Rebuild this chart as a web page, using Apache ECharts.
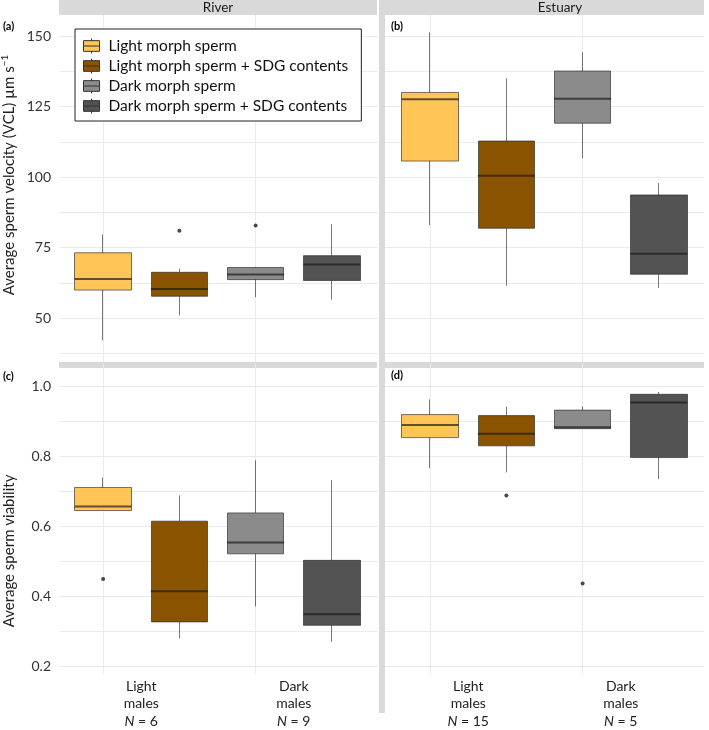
<!DOCTYPE html>
<html><head><meta charset="utf-8">
<script src="https://cdn.jsdelivr.net/npm/echarts@6/dist/echarts.min.js"></script>
<style>html,body{margin:0;padding:0;background:#fff}#c{width:709px;height:730px}</style>
</head><body><div id="c"></div>
<script>
// ---- data ----
const groupNames = ['Light morph sperm', 'Light morph sperm + SDG contents', 'Dark morph sperm', 'Dark morph sperm + SDG contents'];
const boxCategories = ['Light', 'Light + SDG', 'Dark', 'Dark + SDG'];
const maleCategories = ['Light\nmales', 'Dark\nmales'];
const riverN = [6, 9];
const estuaryN = [15, 5];
const facetNames = ['River', 'Estuary'];
const panelTags = ['(a)', '(b)', '(c)', '(d)'];
const velocityTicks = [50, 75, 100, 125, 150];
const viabilityTicks = [0.2, 0.4, 0.6, 0.8, 1.0];
// [min, Q1, median, Q3, max] for each group
const riverVelocity = [
  [42.2, 60.0, 63.9, 73.2, 79.7],
  [51.0, 57.8, 60.4, 66.3, 67.6],
  [57.5, 63.7, 65.5, 68.0, 68.2],
  [56.6, 63.4, 69.1, 72.2, 83.3]
];
const estuaryVelocity = [
  [83.0, 105.7, 127.6, 130.0, 151.3],
  [61.5, 81.9, 100.5, 112.8, 135.0],
  [106.7, 119.1, 127.8, 137.6, 144.2],
  [60.7, 65.6, 72.9, 93.7, 97.9]
];
const riverViability = [
  [0.637, 0.637, 0.649, 0.704, 0.733],
  [0.265, 0.313, 0.402, 0.606, 0.681],
  [0.358, 0.511, 0.544, 0.630, 0.783],
  [0.255, 0.303, 0.335, 0.492, 0.725]
];
const estuaryViability = [
  [0.760, 0.849, 0.886, 0.916, 0.960],
  [0.748, 0.825, 0.860, 0.913, 0.939],
  [0.875, 0.875, 0.879, 0.929, 0.939],
  [0.728, 0.791, 0.951, 0.975, 0.982]
];
// outliers: [group index, value]
const riverVelocityOutliers = [[1, 81.0], [2, 82.9]];
const estuaryVelocityOutliers = [];
const riverViabilityOutliers = [[0, 0.438]];
const estuaryViabilityOutliers = [[1, 0.681], [2, 0.425]];

// ---- styles / layout ----
const FONT = 'Lato';
const fills = ['#FFC557', '#8A5300', '#8B8B8B', '#535353'];
const boxStroke = 'rgba(30,30,30,0.6)';
const gridColor = '#ebebeb';
const stripColor = '#d9d9d9';

const panels = [
  { stats: riverVelocity, out: riverVelocityOutliers, bg: {left: 59, top: 36, width: 319, height: 317.6}, box: {left: 65, top: 15, width: 305, height: 347},
    bgMin: 37.5, bgMax: 150, bgInt: 12.5, yMin: 34.52, yMax: 157.44, labels: true, xlab: false, type: 'vel' },
  { stats: estuaryVelocity, out: estuaryVelocityOutliers, bg: {left: 385, top: 36, width: 319, height: 317.6}, box: {left: 392, top: 15, width: 305, height: 347},
    bgMin: 37.5, bgMax: 150, bgInt: 12.5, yMin: 34.52, yMax: 157.44, labels: false, xlab: false, type: 'vel' },
  { stats: riverViability, out: riverViabilityOutliers, bg: {left: 59, top: 386, width: 319, height: 280}, box: {left: 65, top: 369, width: 305, height: 311},
    bgMin: 0.2, bgMax: 1.0, bgInt: 0.1, yMin: 0.16, yMax: 1.0486, labels: true, xlab: true, ns: riverN, type: 'via' },
  { stats: estuaryViability, out: estuaryViabilityOutliers, bg: {left: 385, top: 386, width: 319, height: 280}, box: {left: 392, top: 369, width: 305, height: 311},
    bgMin: 0.2, bgMax: 1.0, bgInt: 0.1, yMin: 0.16, yMax: 1.0486, labels: false, xlab: true, ns: estuaryN, type: 'via' }
];

const grid = [], xAxis = [], yAxis = [], series = [];
panels.forEach((p, pi) => {
  const gBg = grid.length; grid.push(p.bg);
  const gBox = grid.length; grid.push(p.box);
  // background grid axes (horizontal grid lines + tick labels)
  xAxis.push({ gridIndex: gBg, type: 'category', data: boxCategories, show: false });
  yAxis.push({
    gridIndex: gBg, type: 'value', min: p.bgMin, max: p.bgMax, interval: p.bgInt,
    axisLine: {show: false}, axisTick: {show: false},
    splitLine: {show: true, lineStyle: {color: gridColor, width: 1}},
    axisLabel: {
      show: p.labels, margin: 8, color: '#333', fontFamily: FONT, fontSize: 14,
      formatter: v => {
        if (p.type === 'vel') return velocityTicks.some(t => Math.abs(t - v) < 1e-6) ? String(Math.round(v)) : '';
        return viabilityTicks.some(t => Math.abs(t - v) < 1e-6) ? v.toFixed(1) : '';
      }
    }
  });
  // box grid axes
  const xBox = xAxis.length;
  xAxis.push({
    gridIndex: gBox, type: 'category', data: boxCategories, boundaryGap: true, position: 'bottom',
    axisLine: {show: false}, axisLabel: {show: false}, splitLine: {show: false},
    axisTick: {show: true, inside: true, alignWithLabel: true, length: p.box.height, lineStyle: {color: gridColor, width: 1}}
  });
  xAxis.push({
    gridIndex: gBox, type: 'category', data: maleCategories, boundaryGap: true, position: 'bottom',
    axisLine: {show: false}, axisTick: {show: false}, splitLine: {show: false},
    axisLabel: {
      show: p.xlab, margin: 3, color: '#222', fontFamily: FONT, fontSize: 14, lineHeight: 17.5, align: 'center',
      formatter: (v, i) => v + '\n{i|N} = ' + (p.ns ? p.ns[i] : ''),
      rich: {i: {fontStyle: 'italic', fontFamily: FONT, fontSize: 14, color: '#222', lineHeight: 17.5}}
    }
  });
  const yBox = yAxis.length;
  yAxis.push({ gridIndex: gBox, type: 'value', min: p.yMin, max: p.yMax, show: false, splitLine: {show: false} });

  p.stats.forEach((s, gi) => {
    series.push({
      type: 'candlestick', name: groupNames[gi], xAxisIndex: xBox, yAxisIndex: yBox, barWidth: 57,
      itemStyle: {color: fills[gi], color0: fills[gi], borderColor: boxStroke, borderColor0: boxStroke, borderWidth: 1},
      emphasis: {disabled: true},
      data: boxCategories.map((c, ci) => ci === gi ? [s[1], s[3], s[0], s[4]] : ['-', '-', '-', '-'])
    });
  });
  series.push({
    type: 'scatter', xAxisIndex: xBox, yAxisIndex: yBox, symbol: 'rect', symbolSize: [57, 2], z: 5,
    itemStyle: {color: 'rgba(25,25,25,0.85)'}, silent: true,
    data: p.stats.map((s, gi) => [gi, s[2]])
  });
  series.push({
    type: 'scatter', xAxisIndex: xBox, yAxisIndex: yBox, symbol: 'circle', symbolSize: 4, z: 5,
    itemStyle: {color: '#1a1a1a'}, silent: true,
    data: p.out.map(o => [o[0], o[1]])
  });
});

const iconPath = 'path://M0,2H15V12H0Z M0,7H15 M7.5,0V2 M7.5,12V14';

const graphic = [
  {type: 'rect', shape: {x: 59, y: 0, width: 318, height: 15}, style: {fill: stripColor}, silent: true},
  {type: 'rect', shape: {x: 385, y: 0, width: 319, height: 15}, style: {fill: stripColor}, silent: true},
  {type: 'rect', shape: {x: 379, y: 0, width: 6, height: 713}, style: {fill: stripColor}, silent: true},
  {type: 'rect', shape: {x: 59, y: 362, width: 318, height: 6}, style: {fill: stripColor}, silent: true},
  {type: 'rect', shape: {x: 385, y: 362, width: 319, height: 6}, style: {fill: stripColor}, silent: true},
  {type: 'text', x: 218, y: 8, style: {text: facetNames[0], fill: '#1a1a1a', font: '13.5px ' + FONT, align: 'center', verticalAlign: 'middle'}},
  {type: 'text', x: 560, y: 8, style: {text: facetNames[1], fill: '#1a1a1a', font: '13.5px ' + FONT, align: 'center', verticalAlign: 'middle'}},
  {type: 'text', x: 3, y: 26, style: {text: panelTags[0], fill: '#000', font: 'bold 11px ' + FONT, verticalAlign: 'middle'}},
  {type: 'text', x: 391, y: 26, style: {text: panelTags[1], fill: '#000', font: 'bold 11px ' + FONT, verticalAlign: 'middle'}},
  {type: 'text', x: 3, y: 376, style: {text: panelTags[2], fill: '#000', font: 'bold 11px ' + FONT, verticalAlign: 'middle'}},
  {type: 'text', x: 391, y: 375, style: {text: panelTags[3], fill: '#000', font: 'bold 11px ' + FONT, verticalAlign: 'middle'}},
  {type: 'text', x: 9, y: 175, rotation: Math.PI / 2,
    style: {text: '{n|Average sperm velocity (VCL) µm s}{s|−1}', align: 'center', verticalAlign: 'middle',
      rich: {n: {fontFamily: FONT, fontSize: 15, fill: '#222', lineHeight: 18}, s: {fontFamily: FONT, fontSize: 10, fill: '#222', verticalAlign: 'top', lineHeight: 18}}}},
  {type: 'text', x: 9, y: 551, rotation: Math.PI / 2,
    style: {text: 'Average sperm viability', fill: '#222', font: '15px ' + FONT, align: 'center', verticalAlign: 'middle'}}
];

const chart = echarts.init(document.getElementById('c'), null, {renderer: 'canvas'});
chart.setOption({
  animation: false,
  backgroundColor: '#fff',
  grid, xAxis, yAxis, series, graphic,
  legend: {
    orient: 'vertical', left: 75, top: 29, selectedMode: false,
    backgroundColor: '#fff', borderColor: '#222', borderWidth: 1,
    padding: [9, 13, 7, 8], itemGap: 4, itemWidth: 24, itemHeight: 15,
    textStyle: {fontFamily: FONT, fontSize: 15.5, color: '#111'},
    data: groupNames.map((n, i) => ({name: n, icon: iconPath, itemStyle: {color: fills[i], borderColor: '#333', borderWidth: 1}}))
  }
});
</script></body></html>
